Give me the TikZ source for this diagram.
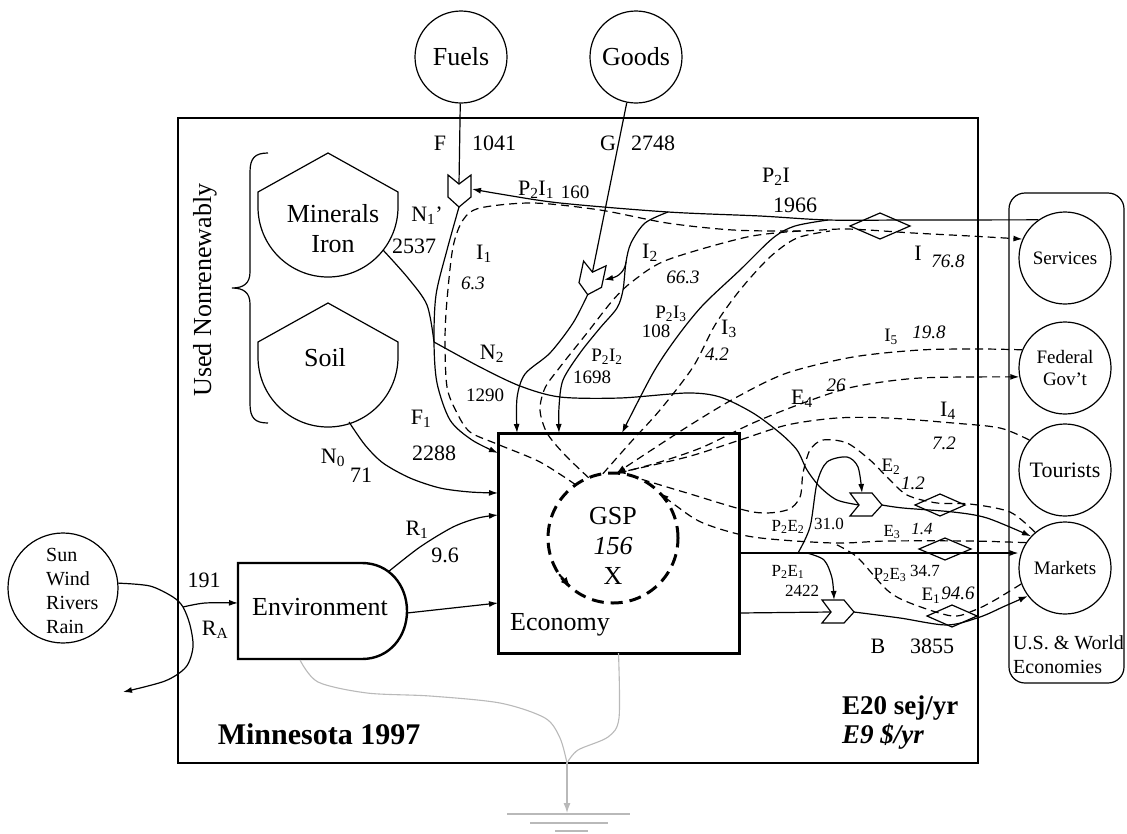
\documentclass[tikz,border=0pt]{standalone}
\usepackage{fontspec}
\setmainfont{Liberation Serif}
\usetikzlibrary{arrows.meta}
\definecolor{gnd}{RGB}{185,185,185}
\newcommand\fA{\fontsize{26}{30}\selectfont}
\newcommand\fB{\fontsize{22}{25}\selectfont}
\newcommand\fC{\fontsize{19}{22}\selectfont}
\newcommand\fD{\fontsize{17}{20}\selectfont}
\newcommand\sbs[1]{\textsubscript{#1}}
\newcommand\pumpat[4]{%
  \begin{scope}[shift={(#2,#3)},rotate=#4]
    \draw[ln,fill=white] (-11,-16) -- (0,-7) -- (12,-16) -- (12,6) -- (0,16) -- (-11,6) -- cycle;
    \coordinate (#1-in) at (0,-7);
    \coordinate (#1-out) at (0,16);
    \coordinate (#1-side) at (13,-2);
    \coordinate (#1-top) at (12,-4);
  \end{scope}}
\newcommand\diam[4]{%
  \draw[ln] ({#1-#3},#2) -- (#1,{#2-#4}) -- ({#1+#3},#2) -- (#1,{#2+#4}) -- cycle;}
\begin{document}
\begin{tikzpicture}[x=1pt,y=-1pt,
  ln/.style={line width=1.2pt},
  ar/.style={ln,-{Latex[length=9pt,width=6pt]}},
  dsh/.style={line width=1.2pt,dash pattern=on 8pt off 5pt},
  dar/.style={dsh,-{Latex[length=9pt,width=6pt]}},
  gl/.style={line width=1.1pt,draw=gnd},
  lb/.style={inner sep=0pt,font=\fB},
  lc/.style={inner sep=0pt,font=\fC},
  ld/.style={inner sep=0pt,font=\fD},
  nc/.style={inner sep=0pt,font=\fC\itshape},
  src/.style={circle,draw,line width=1.2pt,inner sep=0pt,minimum size=92pt},
]
\useasboundingbox (0,0) rectangle (1127,833);

% frames
\draw[ln] (178,118) rectangle (978,763);
\draw[ln,rounded corners=16pt] (1009,193) rectangle (1124,683);

% sources
\node[src,font=\fA] (fuels) at (461,57) {Fuels};
\node[src,font=\fA] (goods) at (636,57) {Goods};
\node[src,font=\fC] (services) at (1065,258) {Services};
\node[src,font=\fC,align=center] (federal) at (1065,368) {Federal\\Gov’t};
\node[src,font=\fB] (tourists) at (1065,470) {Tourists};
\node[src,font=\fC] (markets) at (1065,568) {Markets};
\node[circle,draw,line width=1.2pt,minimum size=110pt,inner sep=0pt] (sun) at (63,588) {};
\node[font=\fontsize{20}{24}\selectfont,align=left,anchor=west,inner sep=0pt] (suntext) at (46,591) {Sun\\Wind\\Rivers\\Rain};

% storages
\draw[ln] (328,153) -- (398,192) -- (398,207) .. controls (398,245.7) and (366.7,277) .. (328,277) .. controls (289.3,277) and (258,245.7) .. (258,207) -- (258,192) -- cycle;
\draw[ln] (328,303) -- (398,342) -- (398,357) .. controls (398,395.7) and (366.7,427) .. (328,427) .. controls (289.3,427) and (258,395.7) .. (258,357) -- (258,342) -- cycle;
\node[font=\fA,align=center,inner sep=0pt] (minerals) at (333,229) {Minerals\\Iron};
\node[font=\fA,inner sep=0pt] (soil) at (325,358) {Soil};
\draw[ln] (268,153) .. controls (255,153) and (250,158) .. (250,172) -- (250,272) .. controls (250,283) and (244,288) .. (232,288) .. controls (244,288) and (250,293) .. (250,304) -- (250,404) .. controls (250,418) and (255,423) .. (268,423);
\node[font=\fA,rotate=90,inner sep=0pt] (used) at (205,290) {Used Nonrenewably};

% environment
\draw[line width=2.4pt] (238,563) -- (362,563) .. controls (389,563) and (407,585) .. (407,611) .. controls (407,637) and (389,659) .. (362,659) -- (238,659) -- cycle;
\node[font=\fA,inner sep=0pt] (envtext) at (320,607) {Environment};
\coordinate (envW) at (238,603);

% economy
\node[draw,line width=3pt,minimum width=241pt,minimum height=220pt,inner sep=0pt,outer sep=0pt] (econ) at (618.5,543) {};
\node[font=\fA,inner sep=0pt] (econtext) at (560,625) {Economy};
\node[circle,draw,line width=3pt,dash pattern=on 12pt off 7pt,minimum size=130pt,inner sep=0pt,outer sep=0pt] (gsp) at (613,538) {};
\node[font=\fontsize{26}{30}\selectfont,align=center,inner sep=0pt] (gsptext) at (613,546) {GSP\\\textit{156}\\X};
\draw[line width=2pt,-{Latex[length=10pt,width=8pt]}] (gsp.214) -- (gsp.229);

\coordinate (eT1) at ([xshift=19pt]econ.north west);
\coordinate (eT2) at ([xshift=61pt]econ.north west);
\coordinate (eT3) at ([xshift=124pt]econ.north west);
\coordinate (eL1) at ([yshift=-20pt]econ.north west);
\coordinate (eL2) at ([yshift=-60pt]econ.north west);
\coordinate (eL3) at ([yshift=-82pt]econ.north west);
\coordinate (eL4) at ([yshift=-170pt]econ.north west);
\coordinate (eR1) at ([yshift=-120pt]econ.north east);
\coordinate (eR2) at ([yshift=-180pt]econ.north east);

% pumps and diamonds
\pumpat{pa}{459}{191}{0}
\pumpat{pb}{591}{279}{-12}
\pumpat{pc}{866}{505}{90}
\pumpat{pd}{838}{612}{90}
\diam{880}{226}{30}{13}
\diam{940}{505}{25}{11}
\diam{945}{549}{26}{11}
\diam{952}{616}{25}{11}

% solid flows
\draw[ln] (fuels) -- (pa-in);
\draw[ln] (goods) -- (pb-in);
\coordinate (j3) at (828,220);
\coordinate (j2) at (668,212);
\draw[ar] plot[smooth] coordinates {(services.125) (910,220) (j3) (760,216) (j2) (560,203) (500,194) (pa-side)};
\draw[ar] plot[smooth] coordinates {(j3) (795,226) (773,238) (740,270) (703,305) (677,337) (653,373) (eT3)};
\coordinate (jb) at (626,262);
\draw[ar] plot[smooth] coordinates {(j2) (645,223) (631,243) (jb) (623,290) (617,308) (600,328) (580,353) (563,380) (559,407) (eT2)};
\draw[ar] (jb) .. controls (625,272) and (617,277) .. (pb-side);
\draw[ar] plot[smooth] coordinates {(pb-out) (573,323) (550,353) (525,374) (517,398) (eT1)};
\coordinate (jN) at (434,342);
\draw[ar] plot[smooth] coordinates {(pa-out) (447,250) (436,295) (jN) (437,383) (450,420) (472,440) (eL1)};
\draw[ln] plot[smooth] coordinates {(383,250) (408,278) (427,305) (jN)};
\draw[ln] plot[smooth] coordinates {(jN) (480,367) (520,386) (560,397) (620,398) (687,393) (720,397) (753,413) (780,433) (797,450) (807,470) (820,487) (837,500) (pc-in)};
\draw[ar] plot[smooth] coordinates {(349,422) (365,445) (383,463) (410,478) (440,488) (470,492) (eL2)};
\draw[ar] plot[smooth] coordinates {(388,572) (420,547) (453,527) (478,518) (eL3)};
\draw[ar] (407,613) -- (eL4);
\coordinate (sj) at (183,607);
\draw[ar] plot[smooth] coordinates {(sun.5) (150,586) (173,597) (sj) (190,625) (193,647) (186,667) (165,681) (123,692)};
\draw[ar] plot[smooth] coordinates {(sj) (205,603) (envW)};
\coordinate (jE2) at (798,553);
\coordinate (jE1) at (807,553);
\draw[ar] (eR1) -- (eR1 -| markets.west);
\draw[ar] plot[smooth] coordinates {(jE2) (810,527) (817,483) (827,462) (847,457) (858,467) (pc-top)};
\draw[ar] plot[smooth] coordinates {(jE1) (824,560) (832,578) (pd-top)};
\draw[ln] (eR2) -- (pd-in);
\draw[ar] plot[smooth] coordinates {(pc-out) (903,508) (953,512) (987,518) (markets.137)};
\draw[ar] plot[smooth] coordinates {(pd-out) (900,618) (947,625) (980,617) (1005,606) (markets.217)};

% money flows
\draw[dar] plot[smooth] coordinates {(gsp.125) (540,462) (497,444) (470,432) (457,413) (447,387) (445,340) (447,300) (453,247) (463,220) (480,208) (533,203) (600,210) (667,223) (733,230) (800,231) (847,229) (913,233) (970,236) (services.156)};
\draw[dsh] plot[smooth] coordinates {(gsp.112) (565,455) (547,433) (540,410) (545,388) (560,367) (587,333) (613,300) (633,281) (667,260) (747,237) (800,231)};
\draw[dsh] plot[smooth] coordinates {(gsp.99) (630,443) (660,410) (693,367) (715,325) (740,290) (770,257) (797,238) (830,231)};
\draw[dar] plot[smooth] coordinates {(federal.157) (980,349) (920,350) (853,357) (787,373) (737,397) (687,427) (gsp.87)};
\draw[dar] plot[smooth] coordinates {(tourists.140) (1000,428) (953,423) (887,418) (837,418) (787,425) (740,440) (687,457) (gsp.87)};
\draw[dar] plot[smooth] coordinates {(gsp.85) (660,462) (703,447) (753,423) (803,403) (853,387) (920,378) (federal.191)};
\draw[dsh] plot[smooth] coordinates {(markets.130) (1010,512) (970,504) (937,503) (907,495) (887,477) (870,460) (847,443) (823,440) (810,450) (803,473) (800,497) (787,510) (753,512) (687,493) (gsp.66)};
\draw[dar] plot[smooth] coordinates {(markets.147) (970,541) (887,541) (833,543) (753,537) (703,523) (675,505) (gsp.44)};
\draw[dsh] plot[smooth] coordinates {(markets.200) (995,600) (975,610) (952,616) (910,603) (887,590) (857,557) (833,543)};

% ground
\draw[gl] plot[smooth] coordinates {(300,660) (318,682) (367,693) (430,696) (500,703) (545,718) (560,738) (567,763)};
\draw[gl] plot[smooth] coordinates {(econ.south) (619,718) (608,737) (578,750) (567,763)};
\draw[gl,-{Latex[length=10pt,width=7pt]}] (567,763) -- (567,813);
\draw[gl] (507,814) -- (630,814);
\draw[gl] (530,823) -- (608,823);
\draw[gl] (555,831) -- (588,831);

% labels
\node[lb] (lF) at (440,143) {F};
\node[lb] (lF2) at (494,143) {1041};
\node[lb] (lG) at (608,143) {G};
\node[lb] (lG2) at (653,143) {2748};
\node[lb] (lP2I1) at (536,190) {P\sbs{2}I\sbs{1}};
\node[lc] (lP2I1b) at (575,192) {160};
\node[lb] (lN1) at (427,216) {N\sbs{1}'};
\node[lb] (lN1b) at (414,246) {2537};
\node[lb] (lI1) at (484,254) {I\sbs{1}};
\node[nc] (lI1b) at (473,283) {6.3};
\node[lb] (lN2) at (492,354) {N\sbs{2}};
\node[lc] (lN2b) at (485,395) {1290};
\node[lb] (lF1) at (421,419) {F\sbs{1}};
\node[lb] (lF1b) at (434,453) {2288};
\node[lb] (lN0) at (333,458) {N\sbs{0}};
\node[lb] (lN0b) at (361,475) {71};
\node[lb] (lR1) at (417,530) {R\sbs{1}};
\node[lb] (lR1b) at (445,555) {9.6};
\node[lb] (l191) at (204,580) {191};
\node[lb] (lRA) at (215,630) {R\sbs{A}};
\node[lb] (lP2I) at (776,177) {P\sbs{2}I};
\node[lb] (lP2Ib) at (795,205) {1966};
\node[lb] (lI) at (918,253) {I};
\node[nc] (lIb) at (948,261) {76.8};
\node[lb] (lI2) at (650,253) {I\sbs{2}};
\node[nc] (lI2b) at (683,277) {66.3};
\node[lc] (lP2I3) at (671,314) {P\sbs{2}I\sbs{3}};
\node[lc] (lP2I3b) at (656,331) {108};
\node[lb] (lI3) at (729,329) {I\sbs{3}};
\node[nc] (lI3b) at (717,354) {4.2};
\node[lc] (lP2I2) at (607,357) {P\sbs{2}I\sbs{2}};
\node[lc] (lP2I2b) at (592,377) {1698};
\node[lc] (lI5) at (891,337) {I\sbs{5}};
\node[nc] (lI5b) at (929,332) {19.8};
\node[lb] (lE4) at (802,399) {E\sbs{4}};
\node[nc] (lE4b) at (836,385) {26};
\node[lb] (lI4) at (948,411) {I\sbs{4}};
\node[nc] (lI4b) at (944,443) {7.2};
\node[lc] (lE2) at (891,467) {E\sbs{2}};
\node[nc] (lE2b) at (913,483) {1.2};
\node[ld] (lP2E2) at (788,527) {P\sbs{2}E\sbs{2}};
\node[ld] (lP2E2b) at (829,524) {31.0};
\node[ld] (lE3) at (892,532) {E\sbs{3}};
\node[ld,font=\fD\itshape] (lE3b) at (922,529) {1.4};
\node[ld] (lP2E1) at (788,572) {P\sbs{2}E\sbs{1}};
\node[ld] (lP2E1b) at (802,591) {2422};
\node[ld] (lP2E3) at (890,575) {P\sbs{2}E\sbs{3}};
\node[ld] (lP2E3b) at (925,571) {34.7};
\node[lc] (lE1) at (931,596) {E\sbs{1}};
\node[nc] (lE1b) at (958,593) {94.6};
\node[lb] (lB) at (878,646) {B};
\node[lb] (lBb) at (932,646) {3855};
\node[font=\fontsize{20}{24}\selectfont,align=left,anchor=west,inner sep=0pt] (lUS) at (1013,655) {U.S. \& World\\Economies};
\node[font=\fontsize{27}{30}\selectfont\bfseries,anchor=west,inner sep=0pt] (lunit1) at (842,708) {E20 sej/yr};
\node[font=\fontsize{27}{30}\selectfont\bfseries\itshape,anchor=west,inner sep=0pt] (lunit2) at (842,737) {E9 \$/yr};
\node[font=\fontsize{30}{33}\selectfont\bfseries,inner sep=0pt] (ltitle) at (319,734) {Minnesota 1997};
\end{tikzpicture}
\end{document}
